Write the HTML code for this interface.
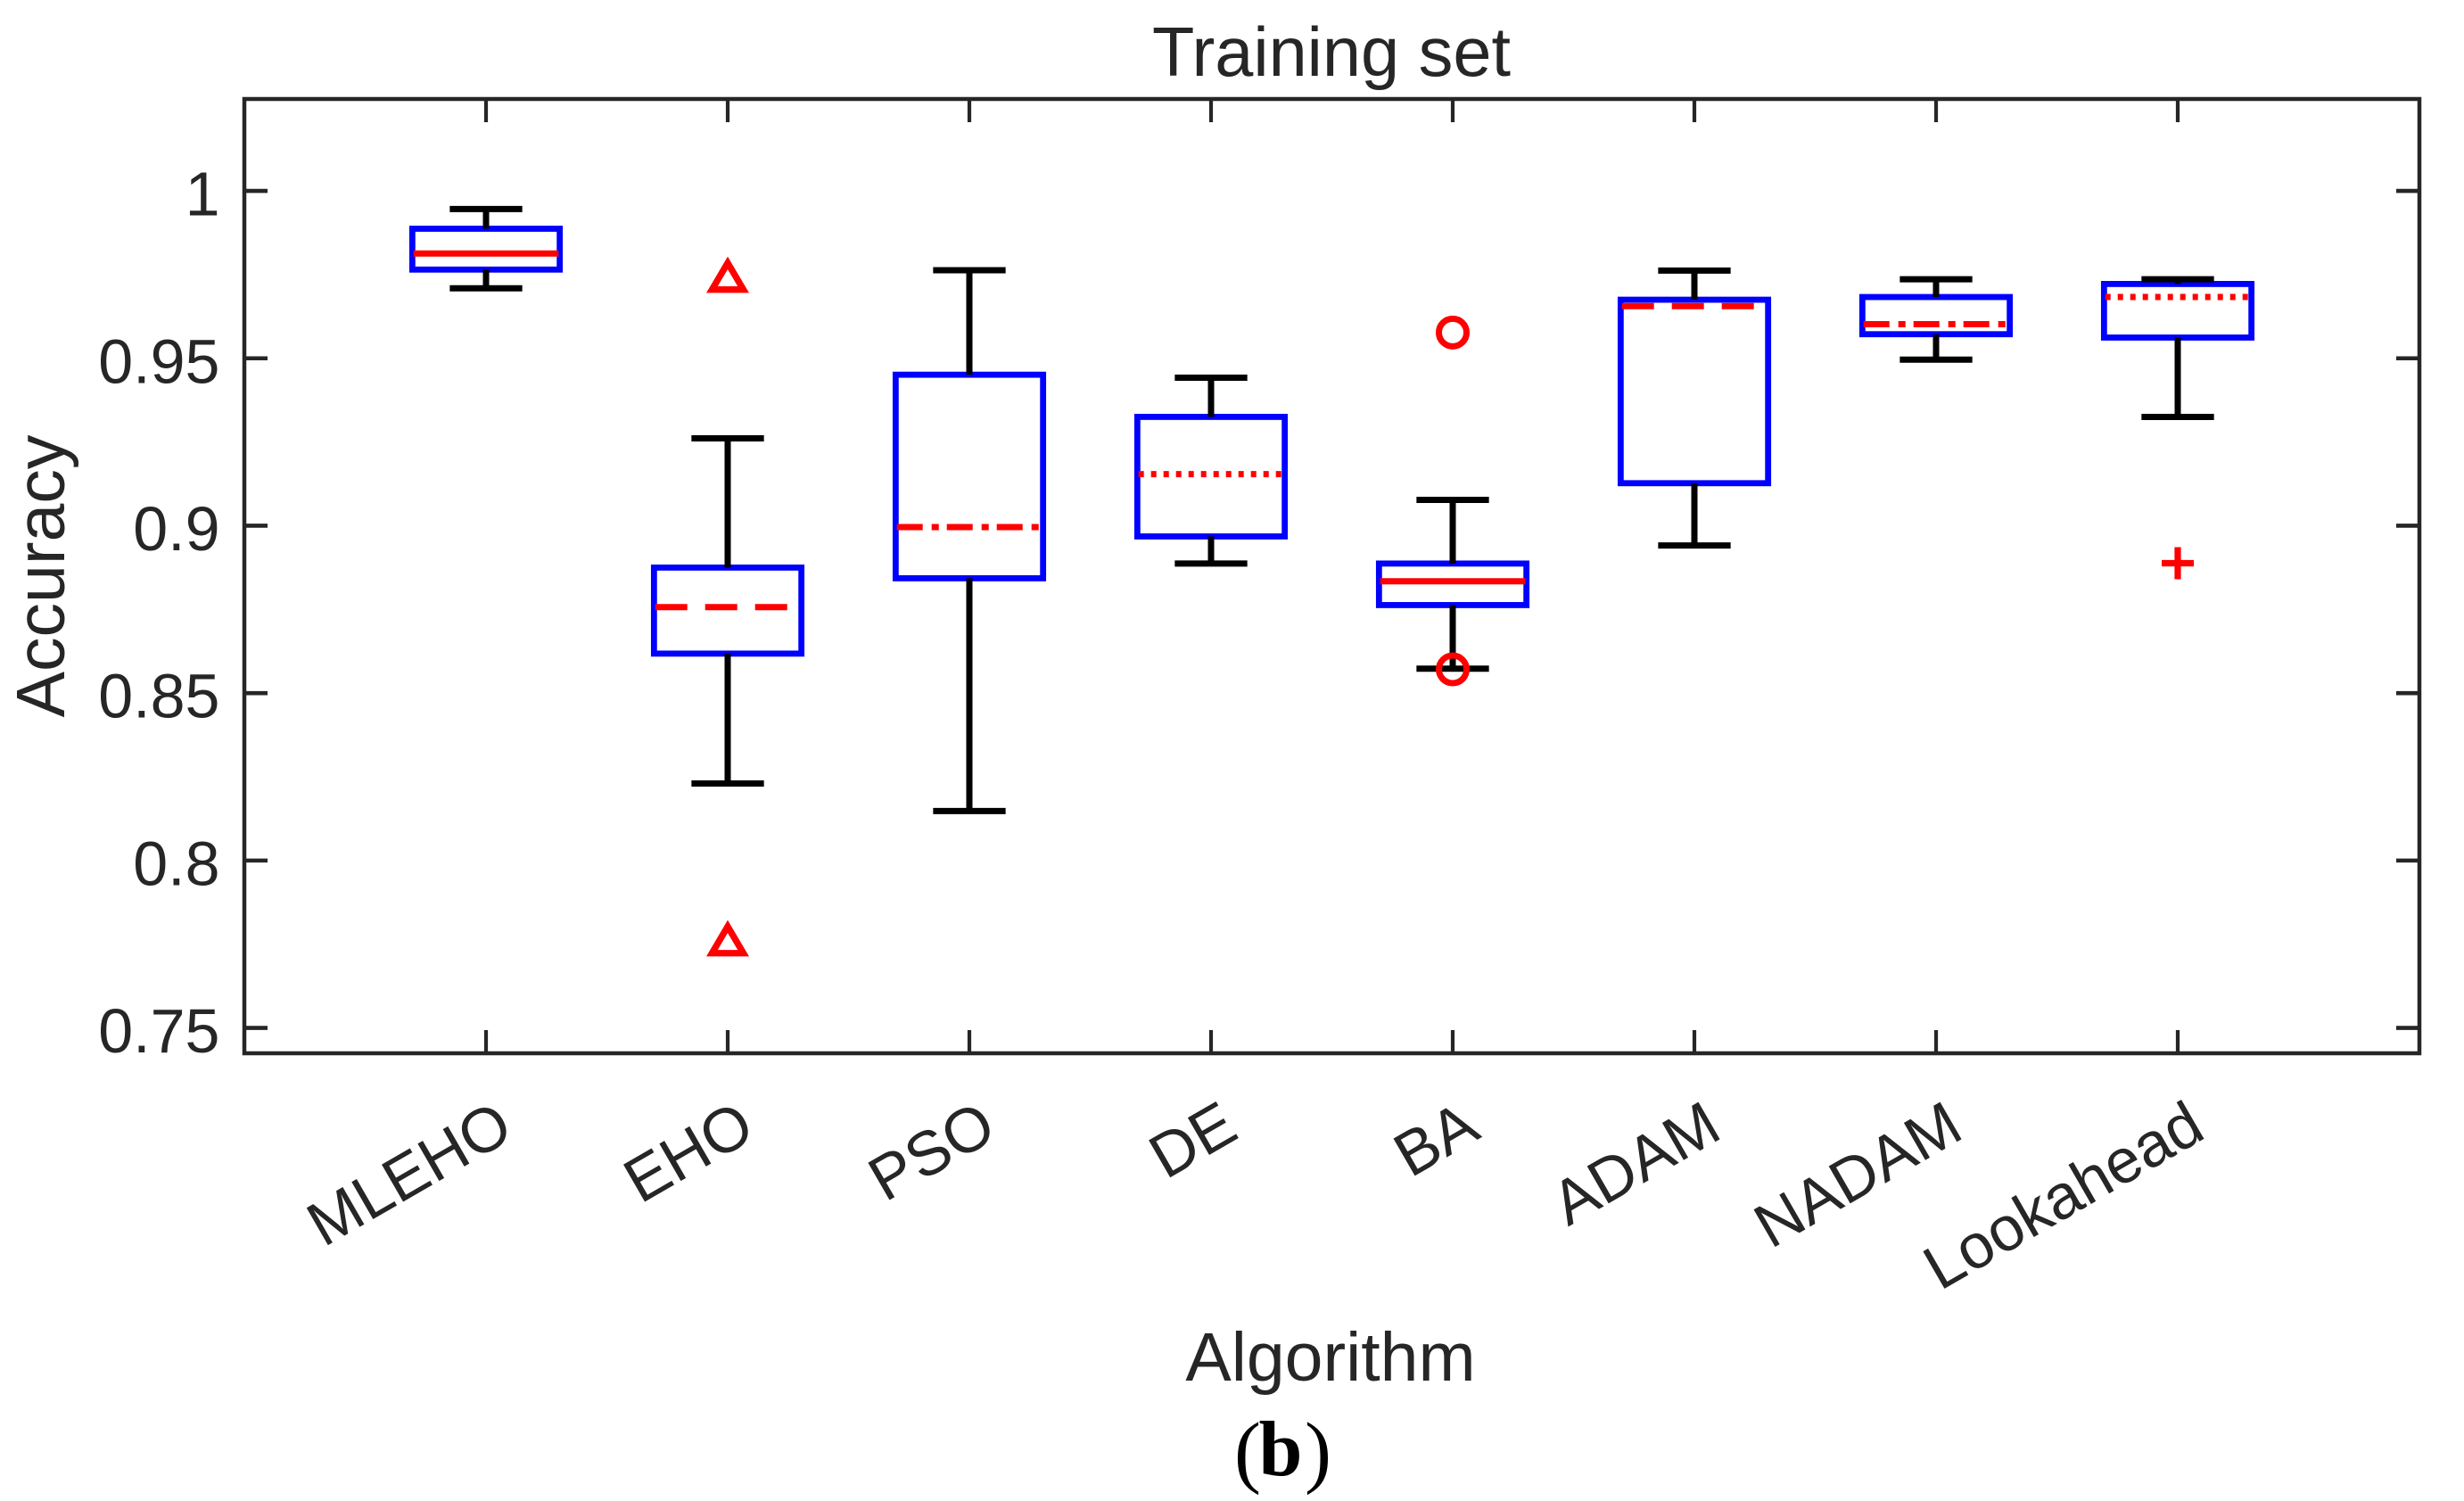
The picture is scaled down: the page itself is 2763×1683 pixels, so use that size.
<!DOCTYPE html>
<html lang="en">
<head>
<meta charset="utf-8">
<title>Training set boxplot</title>
<style>
html,body{margin:0;padding:0;background:#fff;}
svg{display:block;}
text{font-family:"Liberation Sans",Arial,sans-serif;fill:#262626;}
</style>
</head>
<body>
<svg id="chart" xmlns="http://www.w3.org/2000/svg" width="2763" height="1683" viewBox="0 0 2763 1683">
  <rect x="0" y="0" width="2763" height="1683" fill="#ffffff"/>
  <g id="marks"></g>
  <g id="axes"></g>
  <text x="1493" y="85" font-size="77.5" text-anchor="middle">Training set</text>
  <text x="1492" y="1548" font-size="77" text-anchor="middle">Algorithm</text>
  <text transform="translate(72,646) rotate(-90)" font-size="77" text-anchor="middle">Accuracy</text>
  <text style="font-family:'Liberation Serif',serif;fill:#000"><tspan x="1384" y="1657" font-size="90">(</tspan><tspan x="1411.5" y="1654" font-size="88" font-weight="bold">b</tspan><tspan x="1463" y="1657" font-size="90">)</tspan></text>
</svg>
<script>
const categories = ["MLEHO","EHO","PSO","DE","BA","ADAM","NADAM","Lookahead"];
const upperWhisker = [0.9946,0.9261,0.9763,0.9442,0.9077,0.9762,0.9736,0.9736];
const upperQuartile = [0.9887,0.8875,0.9451,0.9325,0.8887,0.9675,0.9683,0.9722];
const medianValue = [0.9813,0.8757,0.8996,0.9154,0.8834,0.9656,0.9602,0.9683];
const lowerQuartile = [0.9765,0.8618,0.8843,0.8968,0.8763,0.9127,0.9572,0.9562];
const lowerWhisker = [0.9709,0.8230,0.8148,0.8887,0.8573,0.8941,0.9496,0.9325];
const outlierValues = [[],[0.975,0.7768],[],[],[0.9577,0.8571],[],[],[0.8888]];
const yTickValues = [1,0.95,0.9,0.85,0.8,0.75];
const yTickLabels = ["1","0.95","0.9","0.85","0.8","0.75"];

const medianDashFor = {MLEHO:"none",EHO:"36 20",PSO:"29 10 8 9",DE:"6 8",BA:"none",ADAM:"36 20",NADAM:"29 10 8 9",Lookahead:"6 8"};
const outlierShapeFor = {EHO:"triangle",BA:"circle",Lookahead:"plus"};

const PLOT = {left:274, right:2713, top:111, bottom:1181};
const XLIM = [0,9];
const YLIM = [0.74243,1.02745];
const NS = "http://www.w3.org/2000/svg";
const INK = "#262626";

function xScale(pos){ return PLOT.left + (pos - XLIM[0]) / (XLIM[1] - XLIM[0]) * (PLOT.right - PLOT.left); }
function yScale(val){ return PLOT.bottom - (val - YLIM[0]) / (YLIM[1] - YLIM[0]) * (PLOT.bottom - PLOT.top); }
function make(tag, attrs, parent){
  const el = document.createElementNS(NS, tag);
  for (const k in attrs) el.setAttribute(k, attrs[k]);
  parent.appendChild(el);
  return el;
}
function line(x1,y1,x2,y2,stroke,width,parent){
  return make("line",{x1:x1,y1:y1,x2:x2,y2:y2,stroke:stroke,"stroke-width":width},parent);
}

const marks = document.getElementById("marks");
const axes = document.getElementById("axes");
const BOX_W = 0.61, CAP_W = 0.3;

categories.forEach(function(name,i){
  const pos = i + 1, cx = xScale(pos);
  const g = make("g",{},marks);
  
  

  const x0 = xScale(pos - BOX_W/2), x1 = xScale(pos + BOX_W/2);
  const box = make("rect",{x:x0,y:yScale(upperQuartile[i]),width:x1-x0,height:yScale(lowerQuartile[i])-yScale(upperQuartile[i]),fill:"none",stroke:"#0000ff","stroke-width":6.8},g);
  
  

  const wu = line(cx,yScale(upperWhisker[i]),cx,yScale(upperQuartile[i]),"#000",7,g);
  
  
  const wl = line(cx,yScale(lowerQuartile[i]),cx,yScale(lowerWhisker[i]),"#000",7,g);
  
  

  const cu = line(xScale(pos-CAP_W/2),yScale(upperWhisker[i]),xScale(pos+CAP_W/2),yScale(upperWhisker[i]),"#000",7,g);
  
  
  const cl = line(xScale(pos-CAP_W/2),yScale(lowerWhisker[i]),xScale(pos+CAP_W/2),yScale(lowerWhisker[i]),"#000",7,g);
  
  

  const med = line(xScale(pos-0.3),yScale(medianValue[i]),xScale(pos+0.3),yScale(medianValue[i]),"#ff0000",7,g);
  if (medianDashFor[name] !== "none") med.setAttribute("stroke-dasharray", medianDashFor[name]);
  
  

  outlierValues[i].forEach(function(v){
    const y = yScale(v);
    const shape = outlierShapeFor[name];
    let m;
    if (shape === "triangle") {
      m = make("polygon",{points:(cx)+","+(y-13.1)+" "+(cx+17.6)+","+(y+16.8)+" "+(cx-17.6)+","+(y+16.8),fill:"none",stroke:"#ff0000","stroke-width":7.3,"stroke-miterlimit":10},g);
    } else if (shape === "circle") {
      m = make("circle",{cx:cx,cy:y,r:15.5,fill:"none",stroke:"#ff0000","stroke-width":7},g);
    } else {
      m = make("path",{d:"M"+(cx-18)+" "+y+"H"+(cx+18)+"M"+cx+" "+(y-18)+"V"+(y+18),fill:"none",stroke:"#ff0000","stroke-width":7.2},g);
    }
    
    
  });
});

const frame = make("rect",{x:PLOT.left,y:PLOT.top,width:PLOT.right-PLOT.left,height:PLOT.bottom-PLOT.top,fill:"none",stroke:INK,"stroke-width":4.5},axes);



const TICK = 26;
yTickValues.forEach(function(v,i){
  const y = yScale(v);
  const tl = line(PLOT.left,y,PLOT.left+TICK,y,INK,4.6,axes);
  
  
  const tr = line(PLOT.right,y,PLOT.right-TICK,y,INK,4.6,axes);
  
  
  const label = make("text",{x:246.5,y:y+27.5,"font-size":70,"text-anchor":"end"},axes);
  label.textContent = yTickLabels[i];
  
  
});

categories.forEach(function(name,i){
  const x = xScale(i+1);
  const tb = line(x,PLOT.bottom,x,PLOT.bottom-TICK,INK,4.2,axes);
  
  
  const tt = line(x,PLOT.top,x,PLOT.top+TICK,INK,4.2,axes);
  
  
  const label = make("text",{transform:"translate("+(x+33.5)+",1274.5) rotate(-30)","font-size":70,"text-anchor":"end"},axes);
  label.textContent = name;
  
  
});
</script>
</body>
</html>
